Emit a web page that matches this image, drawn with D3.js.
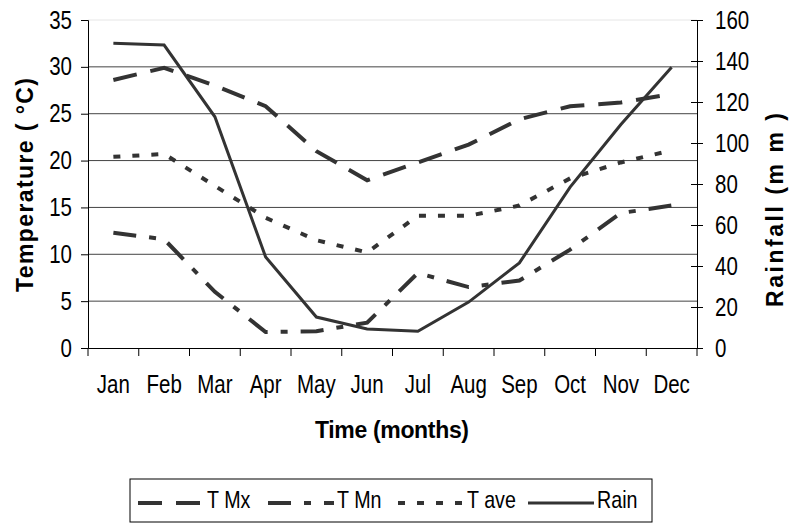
<!DOCTYPE html>
<html>
<head>
<meta charset="utf-8">
<script src="https://cdn.jsdelivr.net/npm/d3@7"></script>
<style>
  body { margin: 0; background: #fff; }
  text { font-family: "Liberation Sans", Arial, sans-serif; fill: #000; }
  .title { font-weight: bold; font-size: 23px; }
</style>
</head>
<body>
<div id="chart"></div>
<script>
const months = ["Jan", "Feb", "Mar", "Apr", "May", "Jun", "Jul", "Aug", "Sep", "Oct", "Nov", "Dec"];
const tMax = [28.6, 29.9, 28.0, 25.8, 21.0, 17.9, 19.8, 21.7, 24.4, 25.8, 26.2, 27.1];
const tMin = [12.3, 11.6, 6.0, 1.7, 1.8, 2.7, 8.0, 6.5, 7.2, 10.5, 14.4, 15.2];
const tAve = [20.4, 20.7, 17.3, 13.9, 11.5, 10.2, 14.1, 14.1, 15.2, 18.1, 19.8, 21.1];
const rain = [148.6, 147.8, 112.8, 44.4, 15.1, 9.3, 8.2, 22.4, 41.5, 78.5, 109, 137];
const tempTicks = [0, 5, 10, 15, 20, 25, 30, 35];
const rainTicks = [0, 20, 40, 60, 80, 100, 120, 140, 160];

const width = 789, height = 523;
const plotLeft = 88, plotRight = 697, plotTop = 20, plotBottom = 348;
const sx = 0.82; // narrow look of the labels

const svg = d3.select("#chart").append("svg")
    .attr("width", width)
    .attr("height", height);

const x = d3.scaleBand().domain(months).range([plotLeft, plotRight]);
const yT = d3.scaleLinear().domain([0, 35]).range([plotBottom, plotTop]);
const yR = d3.scaleLinear().domain([0, 160]).range([plotBottom, plotTop]);

// gridlines
svg.append("g").selectAll("line")
    .data(tempTicks.filter(d => d > 0))
    .enter().append("line")
    .attr("x1", plotLeft).attr("x2", plotRight)
    .attr("y1", d => yT(d)).attr("y2", d => yT(d))
    .attr("stroke", d => d === 35 ? "#e6e6e6" : "#444")
    .attr("stroke-width", 1);

// left axis
const axL = svg.append("g")
    .attr("transform", `translate(${plotLeft},0)`)
    .call(d3.axisLeft(yT).tickValues(tempTicks).tickSize(7).tickPadding(9));
axL.selectAll("text")
    .style("font-size", "25px")
    .attr("x", -16 / sx)
    .attr("transform", `scale(${sx},1)`);

// right axis (ticks cross the line)
const axR = svg.append("g")
    .attr("transform", `translate(${plotRight},0)`)
    .call(d3.axisRight(yR).tickValues(rainTicks).tickSize(6).tickPadding(12));
axR.selectAll(".tick line").attr("x1", -6);
axR.selectAll("text")
    .style("font-size", "25px")
    .attr("x", 18 / sx)
    .attr("transform", `scale(${sx},1)`);

// bottom axis with ticks at category boundaries
const axB = svg.append("g")
    .attr("transform", `translate(0,${plotBottom})`)
    .call(d3.axisBottom(x).tickSize(0).tickPadding(27));
axB.selectAll("text")
    .style("font-size", "25px")
    .attr("transform", `scale(${sx},1)`);
axB.selectAll(".tick").append("line")
    .attr("x1", -x.bandwidth() / 2).attr("x2", -x.bandwidth() / 2)
    .attr("y1", 0).attr("y2", 8)
    .attr("stroke", "#000");
axB.append("line")
    .attr("x1", plotRight).attr("x2", plotRight).attr("y1", 0).attr("y2", 8)
    .attr("stroke", "#000");

svg.selectAll(".domain").attr("stroke", "#000");
svg.selectAll(".tick line").attr("stroke", "#000");

const cx = d => x(d) + x.bandwidth() / 2;

const series = [
    {name: "T Mx", values: tMax, scale: yT, dash: "24,14", w: 4},
    {name: "T Mn", values: tMin, scale: yT, dash: "23,13,7,13", w: 4},
    {name: "T ave", values: tAve, scale: yT, dash: "7,12", w: 4},
    {name: "Rain", values: rain, scale: yR, dash: null, w: 3}
];

series.forEach(s => {
    const line = d3.line()
        .x((d, i) => cx(months[i]))
        .y(d => s.scale(d));
    svg.append("path")
        .datum(s.values)
        .attr("d", line)
        .attr("fill", "none")
        .attr("stroke", "#333")
        .attr("stroke-width", s.w)
        .attr("stroke-dasharray", s.dash);
});

// axis titles
svg.append("text")
    .attr("class", "title")
    .attr("transform", "translate(33,185) rotate(-90)")
    .attr("text-anchor", "middle")
    .attr("textLength", 214)
    .text("Temperature ( °C)");

svg.append("text")
    .attr("class", "title")
    .attr("transform", "translate(783,210) rotate(-90)")
    .attr("text-anchor", "middle")
    .attr("textLength", 194)
    .text("Rainfall (m m )");

svg.append("text")
    .attr("class", "title")
    .attr("x", 392).attr("y", 438)
    .attr("text-anchor", "middle")
    .attr("textLength", 154)
    .text("Time (months)");

// legend
const legend = svg.append("g");
legend.append("rect")
    .attr("x", 130).attr("y", 479)
    .attr("width", 522).attr("height", 43)
    .attr("fill", "none").attr("stroke", "#000");

series.forEach((s, i) => {
    const g = legend.append("g").attr("transform", `translate(${138 + i * 130},503)`);
    g.append("line")
        .attr("x1", 0).attr("x2", 66).attr("y1", 0).attr("y2", 0)
        .attr("stroke", "#333")
        .attr("stroke-width", s.w)
        .attr("stroke-dasharray", s.dash);
    g.append("text")
        .attr("transform", `translate(69,5) scale(${sx},1)`)
        .style("font-size", "24px")
        .text(s.name);
});
</script>
</body>
</html>
